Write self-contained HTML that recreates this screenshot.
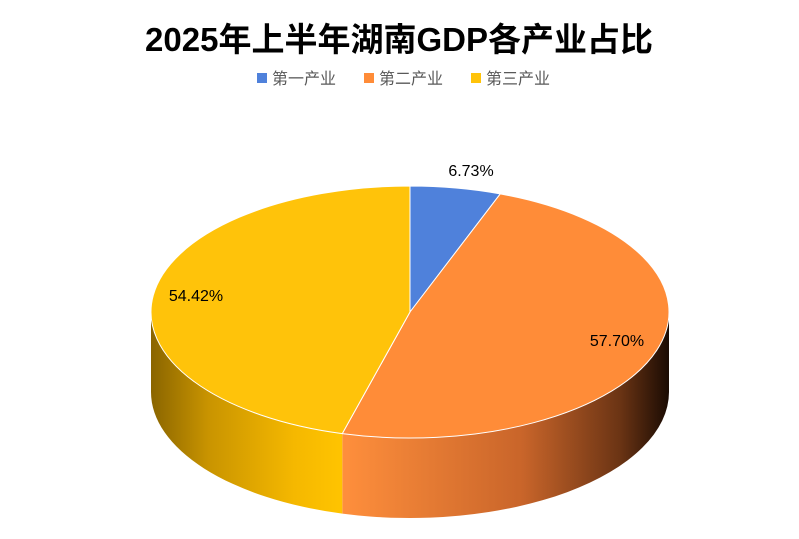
<!DOCTYPE html>
<html><head><meta charset="utf-8"><style>
body{margin:0;background:#fff;width:799px;height:534px;overflow:hidden;font-family:"Liberation Sans","Noto Sans CJK SC",sans-serif}
</style></head><body>
<svg id="chart" width="799" height="534" xmlns="http://www.w3.org/2000/svg">
<defs>
<linearGradient id="gOrange" x1="0" x2="1" y1="0" y2="0" gradientUnits="objectBoundingBox">
<stop offset="0" stop-color="#ff8f3c"/><stop offset="0.55" stop-color="#c9652a"/><stop offset="0.85" stop-color="#6b3414"/><stop offset="1" stop-color="#1a0b03"/></linearGradient>
<linearGradient id="gYellow" x1="0" x2="1" y1="0" y2="0">
<stop offset="0" stop-color="#8a6500"/><stop offset="0.3" stop-color="#c99400"/><stop offset="0.75" stop-color="#f5b800"/><stop offset="1" stop-color="#ffc400"/></linearGradient>
<linearGradient id="gBlue" x1="0" x2="1"><stop offset="0" stop-color="#3a5fa8"/><stop offset="1" stop-color="#2a4680"/></linearGradient>
</defs>
<text x="399" y="51" text-anchor="middle" font-size="33" font-weight="bold" fill="#000">2025年上半年湖南GDP各产业占比</text>
<g id="legend"></g>
<g id="sides"></g><g id="tops"></g><g id="labels"></g>
</svg>
<script>
const categories=["第一产业","第二产业","第三产业"];
const values=[6.73,57.70,54.42];
const valueLabels=["6.73%","57.70%","54.42%"];
const colors=["#4f81db","#ff8c38","#ffc30a"];
const sideFills=["url(#gBlue)","url(#gOrange)","url(#gYellow)"];
const labelPos=[[471,176],[617,346],[196,301]];
const cx=410,cy=312,rx=259,ry=126,depth=80;
const NS="http://www.w3.org/2000/svg";
const svg=document.getElementById('chart');
function pt(t,dy){const r=t*Math.PI/180;return [cx+rx*Math.sin(r),cy-ry*Math.cos(r)+(dy||0)];}
function mk(tag,attrs,parent){const e=document.createElementNS(NS,tag);for(const k in attrs)e.setAttribute(k,attrs[k]);parent.appendChild(e);return e;}
const total=values.reduce((a,b)=>a+b,0);
let a=0;const sides=document.getElementById('sides'),tops=document.getElementById('tops'),labels=document.getElementById('labels');
values.forEach((v,i)=>{
  const a1=a,a2=a+v/total*360;a=a2;
  // side
  const s=Math.max(a1,90),e=Math.min(a2,270);
  if(e>s){
    const p1=pt(s),p2=pt(e),p3=pt(e,depth),p4=pt(s,depth);
    const lg=(e-s)>180?1:0;
    const p=mk('path',{d:`M${p1} A${rx},${ry} 0 ${lg} 1 ${p2} L${p3} A${rx},${ry} 0 ${lg} 0 ${p4} Z`,fill:sideFills[i]},sides);
    
    
  }
  const q1=pt(a1),q2=pt(a2);const lg=(a2-a1)>180?1:0;
  const t=mk('path',{d:`M${cx},${cy} L${q1} A${rx},${ry} 0 ${lg} 1 ${q2} Z`,fill:colors[i],stroke:'#fff','stroke-width':1},tops);
  
  
  const lb=mk('text',{x:labelPos[i][0],y:labelPos[i][1],'text-anchor':'middle','font-size':16,fill:'#000'},labels);
  lb.textContent=valueLabels[i];
  
  
});
// legend
const lgG=document.getElementById('legend');
const lx=[257,364,471];
categories.forEach((c,i)=>{
  const g=mk('g',{},lgG);
  
  
  mk('rect',{x:lx[i],y:73,width:10,height:10,fill:colors[i]},g);
  const t=mk('text',{x:lx[i]+15,y:84,'font-size':16,fill:'#595959'},g);t.textContent=c;
});
</script>
</body></html>
